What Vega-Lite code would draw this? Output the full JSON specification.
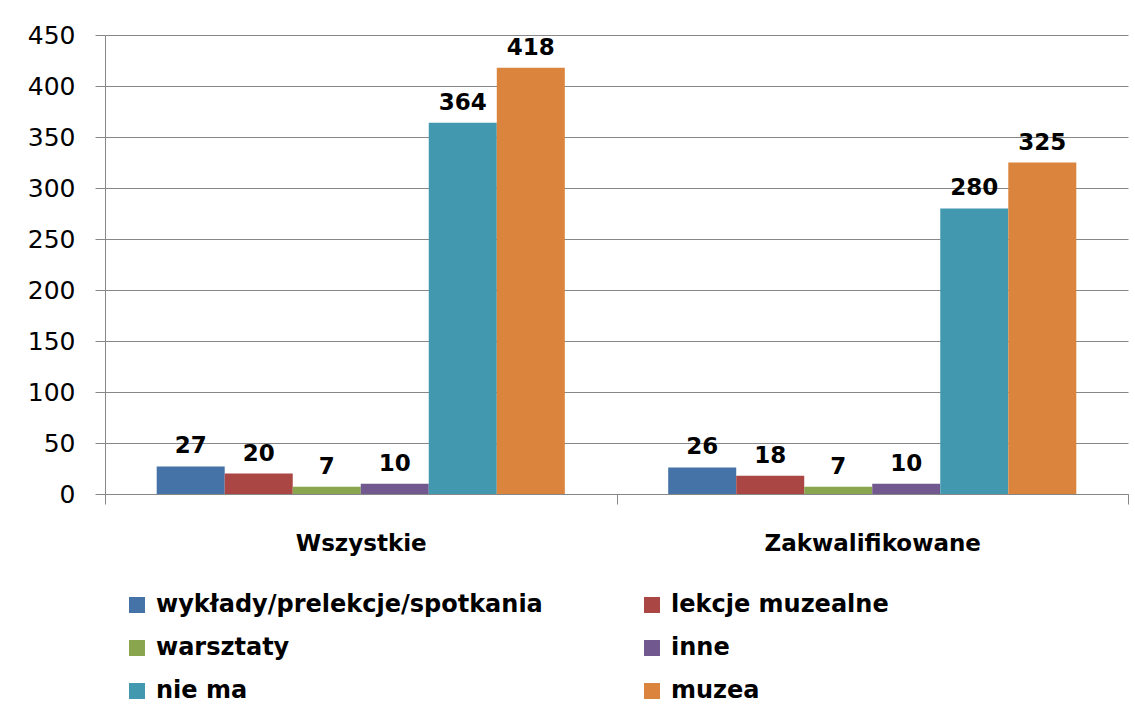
{
  "$schema": "https://vega.github.io/schema/vega-lite/v6.json",
  "width": 1023,
  "height": 459,
  "autosize": {"type": "none"},
  "padding": {"left": 105, "top": 35, "right": 7, "bottom": 219},
  "background": "#ffffff",
  "data": {
    "values": [
      {"grupa": "Wszystkie", "kategoria": "wykłady/prelekcje/spotkania", "liczba": 27},
      {"grupa": "Wszystkie", "kategoria": "lekcje muzealne", "liczba": 20},
      {"grupa": "Wszystkie", "kategoria": "warsztaty", "liczba": 7},
      {"grupa": "Wszystkie", "kategoria": "inne", "liczba": 10},
      {"grupa": "Wszystkie", "kategoria": "nie ma", "liczba": 364},
      {"grupa": "Wszystkie", "kategoria": "muzea", "liczba": 418},
      {"grupa": "Zakwalifikowane", "kategoria": "wykłady/prelekcje/spotkania", "liczba": 26},
      {"grupa": "Zakwalifikowane", "kategoria": "lekcje muzealne", "liczba": 18},
      {"grupa": "Zakwalifikowane", "kategoria": "warsztaty", "liczba": 7},
      {"grupa": "Zakwalifikowane", "kategoria": "inne", "liczba": 10},
      {"grupa": "Zakwalifikowane", "kategoria": "nie ma", "liczba": 280},
      {"grupa": "Zakwalifikowane", "kategoria": "muzea", "liczba": 325}
    ]
  },
  "encoding": {
    "x": {
      "field": "grupa",
      "type": "nominal",
      "sort": ["Wszystkie", "Zakwalifikowane"],
      "scale": {"paddingInner": 0, "paddingOuter": 0},
      "axis": {
        "title": null,
        "labelAngle": 0,
        "labelFont": "DejaVu Sans",
        "labelFontWeight": "bold",
        "labelFontSize": 23,
        "labelColor": "#000000",
        "labelPadding": 28,
        "labelLimit": 400,
        "tickBand": "extent",
        "tickSize": 10,
        "tickColor": "#878787",
        "domainColor": "#878787",
        "grid": false
      }
    },
    "xOffset": {
      "field": "kategoria",
      "type": "nominal",
      "sort": ["wykłady/prelekcje/spotkania", "lekcje muzealne", "warsztaty", "inne", "nie ma", "muzea"],
      "scale": {"paddingInner": 0, "paddingOuter": 0.76}
    },
    "y": {
      "field": "liczba",
      "type": "quantitative",
      "scale": {"domain": [0, 450], "nice": false},
      "axis": {
        "title": null,
        "values": [0, 50, 100, 150, 200, 250, 300, 350, 400, 450],
        "labelFont": "DejaVu Sans",
        "labelFontSize": 25,
        "labelColor": "#000000",
        "labelPadding": 20,
        "tickSize": 10,
        "tickColor": "#878787",
        "domainColor": "#878787",
        "grid": true,
        "gridColor": "#878787",
        "gridWidth": 1
      }
    }
  },
  "layer": [
    {
      "mark": {"type": "bar"},
      "encoding": {
        "color": {
          "field": "kategoria",
          "type": "nominal",
          "sort": ["wykłady/prelekcje/spotkania", "lekcje muzealne", "warsztaty", "inne", "nie ma", "muzea"],
          "scale": {
            "domain": ["wykłady/prelekcje/spotkania", "lekcje muzealne", "warsztaty", "inne", "nie ma", "muzea"],
            "range": ["#4572A7", "#AA4643", "#89A54E", "#71588F", "#4198AF", "#DB843D"]
          },
          "legend": {
            "title": null,
            "orient": "none",
            "direction": "horizontal",
            "legendX": 20,
            "legendY": 558,
            "columns": 2,
            "columnPadding": 97,
            "rowPadding": 19,
            "padding": 0,
            "symbolType": "square",
            "symbolSize": 256,
            "symbolStrokeWidth": 0,
            "labelOffset": 7,
            "labelFont": "DejaVu Sans",
            "labelFontWeight": "bold",
            "labelFontSize": 24,
            "labelColor": "#000000",
            "labelLimit": 600
          }
        }
      }
    },
    {
      "mark": {
        "type": "text",
        "font": "DejaVu Sans",
        "fontWeight": "bold",
        "fontSize": 23,
        "color": "#000000",
        "baseline": "alphabetic",
        "dy": -13
      },
      "encoding": {
        "text": {"field": "liczba", "type": "quantitative"}
      }
    }
  ],
  "config": {
    "view": {"stroke": null}
  }
}
